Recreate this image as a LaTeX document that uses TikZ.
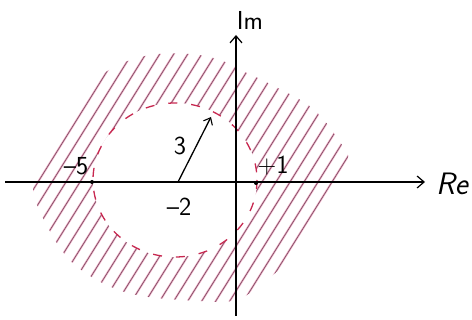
\documentclass[tikz,border=0pt]{standalone}
\usetikzlibrary{arrows.meta}
\definecolor{hatchpink}{RGB}{240,175,200}
\definecolor{hatchdark}{RGB}{125,80,100}
\definecolor{bndred}{RGB}{200,40,80}
\tikzset{
  axisline/.style={line width=1.4pt, black, -{Straight Barb[length=7pt,width=12pt,line width=1.2pt]}},
  hatchbg/.style={line width=2.0pt, hatchpink},
  hatchfg/.style={line width=0.65pt, hatchdark},
  boundary/.style={line width=1.3pt, bndred, dash pattern=on 9pt off 14pt},
  radius arrow/.style={line width=1.3pt, black, -{Straight Barb[length=6pt,width=10pt,line width=1.1pt]}},
  lbl/.style={font=\sffamily\fontsize{26}{26}\selectfont, inner sep=0pt},
  axlbl/.style={font=\sffamily\fontsize{31}{31}\selectfont, inner sep=0pt},
  tickdot/.style={circle, fill=black, inner sep=0pt, minimum size=4pt}
}
\begin{document}
\begin{tikzpicture}[x=1pt,y=-1pt]
\useasboundingbox (0,0) rectangle (472,320);
% hatched region between outer boundary and dashed circle
\begin{scope}
  \clip plot[smooth cycle, tension=0.6] coordinates {
    (33,186) (45,222) (75,265) (128,293) (200,301) (236,300) (260,285)
    (292,256) (322,205) (348,165) (340,142) (312,108) (272,85) (245,72)
    (220,60) (190,54) (150,55) (116,66) (96,82) (70,120) (46,160)};
  \foreach \x in {-200,-186,...,620} {
    \draw[hatchbg] (\x-106,352) -- (\x+106,12);
  }
  \foreach \x in {-200,-186,...,620} {
    \draw[hatchfg] (\x-106,352) -- (\x+106,12);
  }
\end{scope}
% unhatched disc
\fill[white] (175,180) ellipse [x radius=82, y radius=77];
\draw[boundary] (175,180) ellipse [x radius=82, y radius=77];
% axes
\coordinate (reL) at (5,182);
\coordinate (reR) at (425,182);
\coordinate (imB) at (236,316);
\coordinate (imT) at (236,35);
\draw[axisline] (reL) -- (reR);
\draw[axisline] (imB) -- (imT);
\node[axlbl] (re) at (452,184) {\itshape Re};
\node[axlbl, font=\sffamily\fontsize{26}{26}\selectfont] (im) at (250,20) {Im};
% ticks
\node[tickdot] (m5) at (92,182) {};
\node[tickdot] (p1) at (256,183) {};
\coordinate (m2) at (178,182);
\coordinate (tip) at (211,117);
\draw[radius arrow] (m2) -- (tip);
\node[lbl] (lm5) at (76,166) {\textendash5};
\node[lbl] (lm2) at (179,207) {\textendash2};
\node[lbl] (l3) at (180,146) {3};
\node[lbl] (lp1) at (273,166) {+1};
\end{tikzpicture}
\end{document}
